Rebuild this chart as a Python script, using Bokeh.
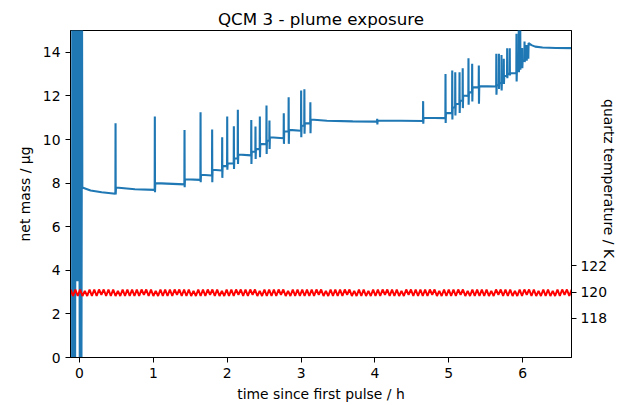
import math
from bokeh.plotting import figure
from bokeh.models import Range1d, LinearAxis, FixedTicker
from bokeh.embed import file_html
from bokeh.resources import INLINE

FONT = "DejaVu Sans"

# ---------------- data ----------------
x_ticks = [0, 1, 2, 3, 4, 5, 6]
y_ticks = [0, 2, 4, 6, 8, 10, 12, 14]
temp_ticks = [118, 120, 122]

mass_time_h = [
    -0.100, -0.098, -0.090, -0.086, -0.078, -0.072, -0.060, -0.052, -0.041, -0.030, -0.012, -0.008, 0.004, 0.014, 0.026, 0.034, 0.038,
    0.150, 0.300, 0.486,
    0.488, 0.490, 0.494, 0.750, 1.018,
    1.020, 1.022, 1.026, 1.420,
    1.422, 1.424, 1.428, 1.637,
    1.639, 1.641, 1.645, 1.794,
    1.796, 1.798, 1.802, 1.930,
    1.932, 1.934, 1.938, 1.998,
    2.000, 2.002, 2.006, 2.088,
    2.090, 2.092, 2.096, 2.142,
    2.144, 2.146, 2.150, 2.324,
    2.326, 2.328, 2.332, 2.381,
    2.383, 2.385, 2.389, 2.440,
    2.442, 2.444, 2.448, 2.530,
    2.532, 2.534, 2.538, 2.570,
    2.572, 2.574, 2.578, 2.764,
    2.766, 2.768, 2.772, 2.830,
    2.832, 2.834, 2.838, 2.999,
    3.001, 3.003, 3.007, 3.043,
    3.045, 3.047, 3.051, 3.124,
    3.126, 3.128, 3.132, 3.350, 3.700, 4.029,
    4.031, 4.033, 4.037, 4.350, 4.651,
    4.653, 4.655, 4.659, 4.954,
    4.956, 4.958, 4.962, 5.045,
    5.047, 5.049, 5.053, 5.086,
    5.088, 5.090, 5.094, 5.144,
    5.146, 5.148, 5.152, 5.187,
    5.189, 5.191, 5.195, 5.265,
    5.267, 5.269, 5.273, 5.315,
    5.317, 5.319, 5.323, 5.405,
    5.407, 5.409, 5.413, 5.642,
    5.644, 5.646, 5.650, 5.677,
    5.679, 5.681, 5.685, 5.712,
    5.714, 5.716, 5.720, 5.743,
    5.745, 5.747, 5.751, 5.789,
    5.791, 5.793, 5.797, 5.824,
    5.826, 5.828, 5.832, 5.915,
    5.917, 5.919, 5.923, 5.946,
    5.948, 5.950, 5.954, 5.966,
    5.968, 5.970, 5.974, 5.992,
    5.994, 5.996, 6.000, 6.024,
    6.026, 6.028, 6.032, 6.051,
    6.053, 6.055, 6.059, 6.073,
    6.075, 6.077, 6.081, 6.120, 6.170, 6.270, 6.450, 6.700,
]

mass_ug = [
    -1.0, 16.0, -1.0, 16.0, -1.0, 16.0, -1.0, 16.0, 3.5, 16.0, 3.5, 16.0, -1.0, 16.0, -1.0, 16.0, 7.80,
    7.66, 7.58, 7.51,
    10.75, 7.48, 7.80, 7.72, 7.69,
    11.05, 7.58, 8.00, 7.94,
    10.44, 7.81, 8.18, 8.15,
    11.25, 8.04, 8.38, 8.35,
    10.46, 8.04, 8.61, 8.58,
    10.10, 8.24, 8.79, 8.78,
    11.05, 8.61, 8.91, 8.90,
    10.61, 8.65, 9.14, 9.13,
    11.36, 8.88, 9.31, 9.27,
    10.90, 8.88, 9.45, 9.44,
    10.60, 9.11, 9.57, 9.56,
    11.05, 9.19, 9.80, 9.78,
    11.56, 9.34, 9.95, 9.94,
    10.87, 9.57, 10.10, 10.06,
    11.20, 9.80, 10.38, 10.37,
    11.94, 9.80, 10.44, 10.40,
    12.25, 10.10, 10.64, 10.63,
    12.30, 10.26, 10.75, 10.74,
    11.71, 10.29, 10.92, 10.86, 10.83, 10.82,
    10.95, 10.69, 10.86, 10.86, 10.85,
    11.76, 10.72, 11.00, 10.98,
    13.01, 10.76, 11.22, 11.21,
    13.17, 10.92, 11.48, 11.47,
    13.09, 11.10, 11.64, 11.63,
    13.09, 11.22, 11.79, 11.78,
    13.27, 11.44, 12.02, 12.00,
    13.73, 11.59, 12.17, 12.16,
    13.47, 11.74, 12.40, 12.39,
    13.39, 11.64, 12.45, 12.43,
    13.93, 12.05, 12.50, 12.49,
    13.93, 12.32, 12.60, 12.59,
    13.88, 12.25, 12.75, 12.74,
    13.70, 12.55, 12.92, 12.91,
    14.19, 12.81, 13.02, 13.01,
    14.19, 12.94, 13.05, 13.04,
    14.85, 12.66, 13.25, 13.24,
    15.50, 13.09, 13.40, 13.40,
    15.30, 13.20, 13.50, 13.50,
    14.20, 13.27, 13.60, 13.60,
    14.50, 13.55, 13.70, 13.70,
    14.34, 13.62, 13.80, 13.80,
    14.28, 13.70, 14.42, 14.33, 14.26, 14.22, 14.20, 14.19,
]

temp_time_h = [
    -0.120, -0.088, -0.056, -0.024, 0.008, 0.040, 0.072, 0.104, 0.136, 0.168, 0.200, 0.232, 0.264, 0.296, 0.328, 0.360, 0.392, 0.424, 0.456, 0.488, 0.520, 0.552, 0.584, 0.616, 0.648,
    0.680, 0.712, 0.744, 0.776, 0.808, 0.840, 0.872, 0.904, 0.936, 0.968, 1.000, 1.032, 1.064, 1.096, 1.128, 1.160, 1.192, 1.224, 1.256, 1.288, 1.320, 1.352, 1.384, 1.416, 1.448,
    1.480, 1.512, 1.544, 1.576, 1.608, 1.640, 1.672, 1.704, 1.736, 1.768, 1.800, 1.832, 1.864, 1.896, 1.928, 1.960, 1.992, 2.024, 2.056, 2.088, 2.120, 2.152, 2.184, 2.216, 2.248,
    2.280, 2.312, 2.344, 2.376, 2.408, 2.440, 2.472, 2.504, 2.536, 2.568, 2.600, 2.632, 2.664, 2.696, 2.728, 2.760, 2.792, 2.824, 2.856, 2.888, 2.920, 2.952, 2.984, 3.016, 3.048,
    3.080, 3.112, 3.144, 3.176, 3.208, 3.240, 3.272, 3.304, 3.336, 3.368, 3.400, 3.432, 3.464, 3.496, 3.528, 3.560, 3.592, 3.624, 3.656, 3.688, 3.720, 3.752, 3.784, 3.816, 3.848,
    3.880, 3.912, 3.944, 3.976, 4.008, 4.040, 4.072, 4.104, 4.136, 4.168, 4.200, 4.232, 4.264, 4.296, 4.328, 4.360, 4.392, 4.424, 4.456, 4.488, 4.520, 4.552, 4.584, 4.616, 4.648,
    4.680, 4.712, 4.744, 4.776, 4.808, 4.840, 4.872, 4.904, 4.936, 4.968, 5.000, 5.032, 5.064, 5.096, 5.128, 5.160, 5.192, 5.224, 5.256, 5.288, 5.320, 5.352, 5.384, 5.416, 5.448,
    5.480, 5.512, 5.544, 5.576, 5.608, 5.640, 5.672, 5.704, 5.736, 5.768, 5.800, 5.832, 5.864, 5.896, 5.928, 5.960, 5.992, 6.024, 6.056, 6.088, 6.120, 6.152, 6.184, 6.216, 6.248,
    6.280, 6.312, 6.344, 6.376, 6.408, 6.440, 6.472, 6.504, 6.536, 6.568, 6.600, 6.632, 6.664,
]

temp_K = [
    120.2, 119.7, 120.2, 119.7, 120.2, 119.7, 120.1, 119.7, 120.2, 119.7, 120.2, 119.7, 120.2, 119.8, 120.2, 119.7, 120.2, 119.7, 120.2, 119.7, 120.1, 119.7, 120.2, 119.7, 120.2,
    119.7, 120.2, 119.7, 120.2, 119.7, 120.2, 119.8, 120.2, 119.7, 120.2, 119.7, 120.1, 119.7, 120.2, 119.7, 120.2, 119.7, 120.2, 119.7, 120.2, 119.8, 120.2, 119.7, 120.2, 119.7,
    120.2, 119.7, 120.1, 119.7, 120.2, 119.7, 120.2, 119.7, 120.2, 119.8, 120.2, 119.7, 120.2, 119.7, 120.1, 119.7, 120.2, 119.7, 120.2, 119.7, 120.2, 119.8, 120.2, 119.7, 120.2,
    119.7, 120.2, 119.8, 120.2, 119.7, 120.1, 119.7, 120.2, 119.7, 120.2, 119.7, 120.2, 119.7, 120.2, 119.8, 120.2, 119.7, 120.1, 119.7, 120.2, 119.7, 120.2, 119.7, 120.2, 119.7,
    120.2, 119.7, 120.2, 119.7, 120.2, 119.8, 120.2, 119.7, 120.1, 119.7, 120.2, 119.7, 120.2, 119.7, 120.2, 119.7, 120.2, 119.8, 120.2, 119.7, 120.1, 119.7, 120.2, 119.7, 120.2,
    119.7, 120.1, 119.7, 120.2, 119.7, 120.2, 119.7, 120.2, 119.8, 120.2, 119.7, 120.2, 119.7, 120.2, 119.7, 120.1, 119.7, 120.2, 119.8, 120.2, 119.7, 120.2, 119.7, 120.2, 119.7,
    120.2, 119.7, 120.2, 119.8, 120.2, 119.7, 120.1, 119.7, 120.2, 119.7, 120.2, 119.7, 120.2, 119.7, 120.2, 119.8, 120.2, 119.7, 120.1, 119.7, 120.2, 119.7, 120.2, 119.7, 120.2,
    119.7, 120.2, 119.7, 120.1, 119.7, 120.2, 119.8, 120.2, 119.7, 120.2, 119.7, 120.2, 119.7, 120.1, 119.7, 120.2, 119.7, 120.2, 119.8, 120.2, 119.7, 120.2, 119.7, 120.1, 119.7,
    120.2, 119.7, 120.2, 119.7, 120.1, 119.7, 120.2, 119.7, 120.2, 119.8, 120.2, 119.7, 120.2,
]

title_text = "QCM 3 - plume exposure"
x_label = "time since first pulse / h"
y_label = "net mass / µg"
y2_label = "quartz temperature / K"

# ---------------- figure ----------------
p = figure(width=620, height=405,
           x_range=Range1d(-0.122, 6.662), y_range=Range1d(0, 15),
           output_backend="svg", toolbar_location=None,
           min_border_left=70, min_border_right=49,
           min_border_top=30, min_border_bottom=48)
p.extra_y_ranges = {"temp": Range1d(115, 140)}
p.background_fill_color = "white"
p.border_fill_color = "white"
p.outline_line_color = "black"
p.outline_line_width = 1
p.outline_line_alpha = 1
p.xgrid.visible = False
p.ygrid.visible = False

p.title.text = title_text
p.title.align = "center"
p.title.text_font = FONT
p.title.text_font_size = "16.7px"
p.title.text_font_style = "normal"
p.title.text_color = "black"
p.title.standoff = 4

p.line(mass_time_h, mass_ug, line_color="#1f77b4", line_width=2.1)
p.line(temp_time_h, temp_K, y_range_name="temp", line_color="#ff0000", line_width=2)

right_axis = LinearAxis(y_range_name="temp")
p.add_layout(right_axis, "right")

p.xaxis.ticker = FixedTicker(ticks=x_ticks)
p.yaxis[0].ticker = FixedTicker(ticks=y_ticks)
right_axis.ticker = FixedTicker(ticks=temp_ticks)

for ax in [p.xaxis[0], p.yaxis[0], right_axis]:
    ax.axis_line_color = "black"
    ax.axis_line_width = 1
    ax.major_tick_line_color = "black"
    ax.major_tick_line_width = 1
    ax.major_tick_out = 5
    ax.major_tick_in = 0
    ax.minor_tick_line_color = None
    ax.major_label_standoff = 5
    ax.major_label_text_font = FONT
    ax.major_label_text_font_size = "13.9px"
    ax.major_label_text_color = "black"
    ax.axis_label_text_font = FONT
    ax.axis_label_text_font_size = "13.9px"
    ax.axis_label_text_font_style = "normal"
    ax.axis_label_text_color = "black"

p.xaxis[0].axis_label = x_label
p.xaxis[0].axis_label_standoff = 5
p.yaxis[0].axis_label = y_label
p.yaxis[0].axis_label_standoff = 7
# trailing no-break spaces lift the centred label clear of the "122" tick label
right_axis.axis_label = y2_label + "\u00a0" * 7
right_axis.axis_label_standoff = -9
right_axis.major_label_standoff = 4

open("out.html", "w").write(file_html(p, INLINE))
